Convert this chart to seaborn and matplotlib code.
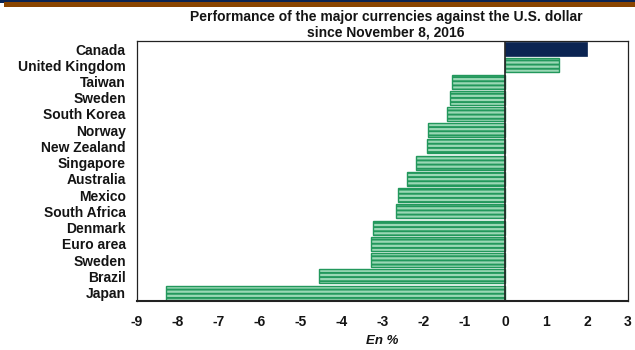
import matplotlib
matplotlib.use("Agg")
import matplotlib.pyplot as plt
import seaborn as sns
import pandas as pd

# Data (% change vs USD since Nov 8, 2016)
countries = ["Canada", "United Kingdom", "Taiwan", "Sweden", "South Korea",
             "Norway", "New Zealand", "Singapore", "Australia", "Mexico",
             "South Africa", "Denmark", "Euro area", "Sweden", "Brazil", "Japan"]
changes = [2.00, 1.31, -1.30, -1.35, -1.43, -1.90, -1.92, -2.17, -2.41, -2.63,
           -2.66, -3.22, -3.28, -3.29, -4.56, -8.30]
x_ticks = [-9, -8, -7, -6, -5, -4, -3, -2, -1, 0, 1, 2, 3]

df = pd.DataFrame({"row": list(range(len(countries))), "change": changes})

sns.set_style("white")
plt.rcParams['font.family'] = ['Liberation Sans', 'DejaVu Sans']
plt.rcParams['hatch.linewidth'] = 1.4
txt = "#141414"

fig = plt.figure(figsize=(6.35, 3.5), dpi=100)
ax = fig.add_axes([0.2157, 0.141, 0.7733, 0.742])

colors = ["#0b2452"] + ["#9ad8b5"] * (len(countries) - 1)
sns.barplot(data=df, x="change", y="row", hue="row", palette=colors,
            orient="h", legend=False, width=0.86, ax=ax, saturation=1)

for i, patch in enumerate(ax.patches):
    if i == 0:
        patch.set_edgecolor("#0b2452")
        patch.set_linewidth(0.5)
    else:
        patch.set_edgecolor("#22985c")
        patch.set_hatch("----")
        patch.set_linewidth(1.0)

ax.axvline(0, color="#222222", lw=1.2)
ax.set_xlim(-9, 3)
ax.set_ylim(len(countries) - 0.5, -0.5)
ax.set_xticks(x_ticks)
ax.set_xticklabels([str(t) for t in x_ticks], fontsize=10, fontweight="bold", color=txt)
ax.set_yticks(range(len(countries)))
ax.set_yticklabels(countries, fontsize=10, fontweight="bold", color=txt)
ax.tick_params(axis="y", length=0, pad=8)
ax.tick_params(axis="x", length=4, width=1, direction="out", pad=6, color="#222222")
ax.set_ylabel("")
ax.set_xlabel("En %", fontsize=9.5, fontweight="bold", fontstyle="italic",
              labelpad=5, color=txt)

for side in ["top", "right", "left"]:
    ax.spines[side].set_color("#222222")
    ax.spines[side].set_linewidth(0.9)
ax.spines["bottom"].set_color("#222222")
ax.spines["bottom"].set_linewidth(1.5)

fig.text(0.608, 0.951, "Performance of the major currencies against the U.S. dollar",
         ha="center", va="center", fontsize=10, fontweight="bold", color=txt)
fig.text(0.608, 0.908, "since November 8, 2016",
         ha="center", va="center", fontsize=10, fontweight="bold", color=txt)

# header band
fig.add_artist(plt.Rectangle((0, 1 - 2.5 / 350), 1, 2.5 / 350, color="#0b2452",
                             transform=fig.transFigure, lw=0))
fig.add_artist(plt.Rectangle((4 / 635, 1 - 6.5 / 350), 1, 4 / 350, color="#8a4500",
                             transform=fig.transFigure, lw=0))

fig.savefig("out.png", dpi=100)
